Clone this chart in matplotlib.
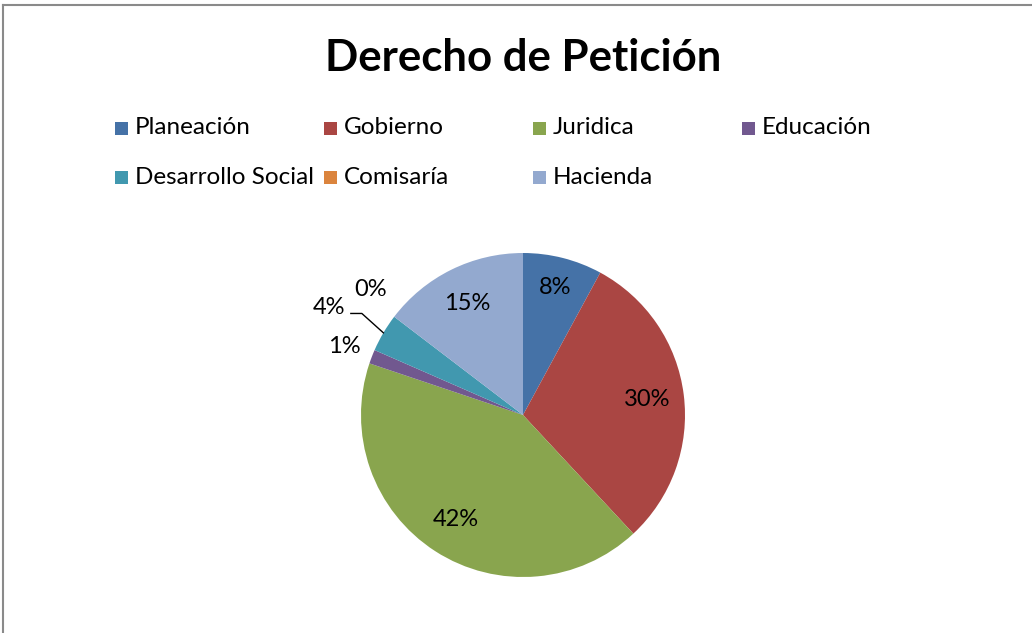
import numpy as np
import matplotlib
matplotlib.use("Agg")
import matplotlib.pyplot as plt
from matplotlib.patches import Rectangle
from matplotlib.lines import Line2D

plt.rcParams["font.family"] = ["Lato", "DejaVu Sans"]

categories = ["Planeación", "Gobierno", "Juridica", "Educación",
              "Desarrollo Social", "Comisaría", "Hacienda"]
values = [7.9, 30.1, 42.0, 1.4, 3.8, 0.0, 14.6]
colors = ["#4572A7", "#AA4643", "#89A54E", "#71588F",
          "#4198AF", "#DB843D", "#93A9CF"]
# label distance (in radii) from the centre and angle nudge (deg), per slice
label_dist = [0.81, 0.77, 0.77, 1.18, 1.37, 1.22, 0.77]
label_nudge = [0, 0, 0, 0, 1.5, -2, 0]
title = "Derecho de Petición"

W, H = 1032, 633
fig = plt.figure(figsize=(W / 100, H / 100), dpi=100)

# chart frame (only top and left edges visible)
fig.add_artist(Line2D([3 / W, 3 / W], [0, 1 - 5 / H], transform=fig.transFigure,
                      color="#8a8a8a", lw=1.5))
fig.add_artist(Line2D([3 / W, 1], [1 - 5 / H, 1 - 5 / H], transform=fig.transFigure,
                      color="#8a8a8a", lw=1.5))

fig.text(523 / W, 1 - 58 / H, title, ha="center", va="center",
         fontsize=31.5, fontweight="bold")

# legend, 4 columns
for i, (name, c) in enumerate(zip(categories, colors)):
    col, row = i % 4, i // 4
    x = 115 + col * 209
    y = 128 + row * 49
    fig.add_artist(Rectangle((x / W, 1 - (y + 7) / H), 13 / W, 13 / H,
                             transform=fig.transFigure, facecolor=c, edgecolor="none"))
    fig.text((x + 20) / W, 1 - y / H, name, ha="left", va="center", fontsize=17.5)

# pie
cx, cy, R = 523, 415, 162
ax = fig.add_axes([(cx - R) / W, (H - cy - R) / H, 2 * R / W, 2 * R / H])
wedges, _ = ax.pie(values, colors=colors, startangle=90, counterclock=False,
                   radius=1.0, wedgeprops=dict(linewidth=0))
ax.set_xlim(-1, 1)
ax.set_ylim(-1, 1)
ax.set_aspect("auto")
ax.axis("off")

total = sum(values)
for w, v, d, nd in zip(wedges, values, label_dist, label_nudge):
    mid = np.deg2rad((w.theta1 + w.theta2) / 2)
    pos = mid + np.deg2rad(nd)
    lx, ly = d * np.cos(pos), d * np.sin(pos)
    ax.text(lx, ly, f"{round(100 * v / total):.0f}%", ha="center", va="center",
            fontsize=17, clip_on=False)
    if d > 1.3:
        # leader line from the label to the slice edge
        ex, ey = np.cos(mid), np.sin(mid)
        sx = lx + 22 / R
        ax.plot([sx, sx + 11 / R, ex], [ly - 6 / R, ly - 6 / R, ey],
                color="black", lw=1, clip_on=False)

fig.savefig("out.png", dpi=100)
